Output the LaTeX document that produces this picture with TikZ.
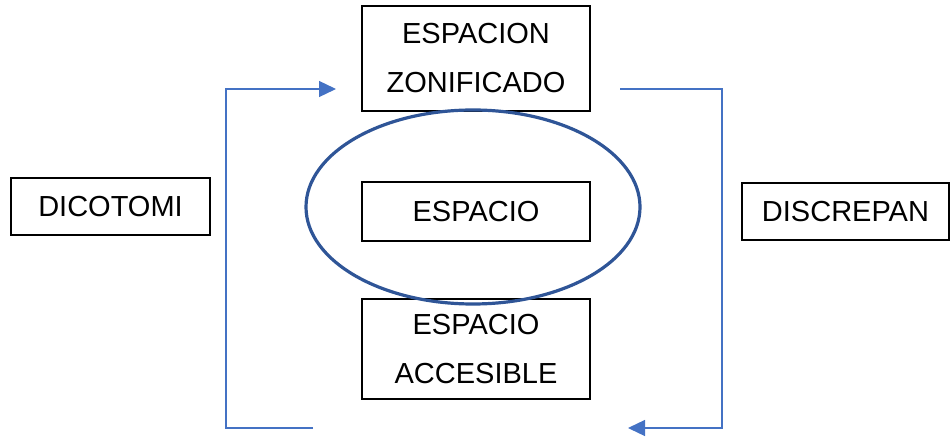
\documentclass[tikz,border=0pt]{standalone}
\usepackage{fontspec}
\setmainfont{Liberation Sans}
\usepackage{tikz}
\definecolor{linkblue}{RGB}{68, 114, 196}
\definecolor{ringblue}{RGB}{47, 85, 151}
\usetikzlibrary{arrows.meta, shapes.geometric}

\begin{document}
\begin{tikzpicture}[x=1pt, y=-1pt,
			>={Triangle[length=17pt, width=16pt]},   %Pfeilspitzen
			box/.style={draw, line width=1.4pt, fill=white, inner sep=0pt, align=center,
				font=\fontsize{29}{49}\selectfont},
			link/.style={draw=linkblue, line width=1.3pt},
			ring/.style={ellipse, draw=ringblue, line width=3.2pt, inner sep=0pt}]
			%Bildbereich
			\useasboundingbox (0,0) rectangle (950,438);
			% Kaesten zeichnen
			\node[box, minimum width=228pt, minimum height=105pt] (zon) at (476,58.5) {ESPACION\\ZONIFICADO};
			\node[box, minimum width=228pt, minimum height=59pt] (esp) at (476,211.5) {ESPACIO};
			\node[box, minimum width=228pt, minimum height=100pt] (acc) at (476,349) {ESPACIO\\ACCESIBLE};
			\node[box, minimum width=199pt, minimum height=57pt] (dic) at (110.5,206.5) {DICOTOMI};
			\node[box, minimum width=207pt, minimum height=57pt] (dis) at (845.5,211.5) {DISCREPAN};
			% Ellipse
			\node[ring, minimum width=334pt, minimum height=194pt] (kreis) at (473,207) {};
			% Pfeile
			\coordinate (lstart) at (313,428);
			\coordinate (lend) at (336,89);
			\coordinate (rstart) at (620,89);
			\coordinate (rend) at (628,428);
			\draw[link, ->] (lstart) -- (226,428) |- (lend);
			\draw[link, ->] (rstart) -- (722,89) |- (rend);
		\end{tikzpicture}
\end{document}
